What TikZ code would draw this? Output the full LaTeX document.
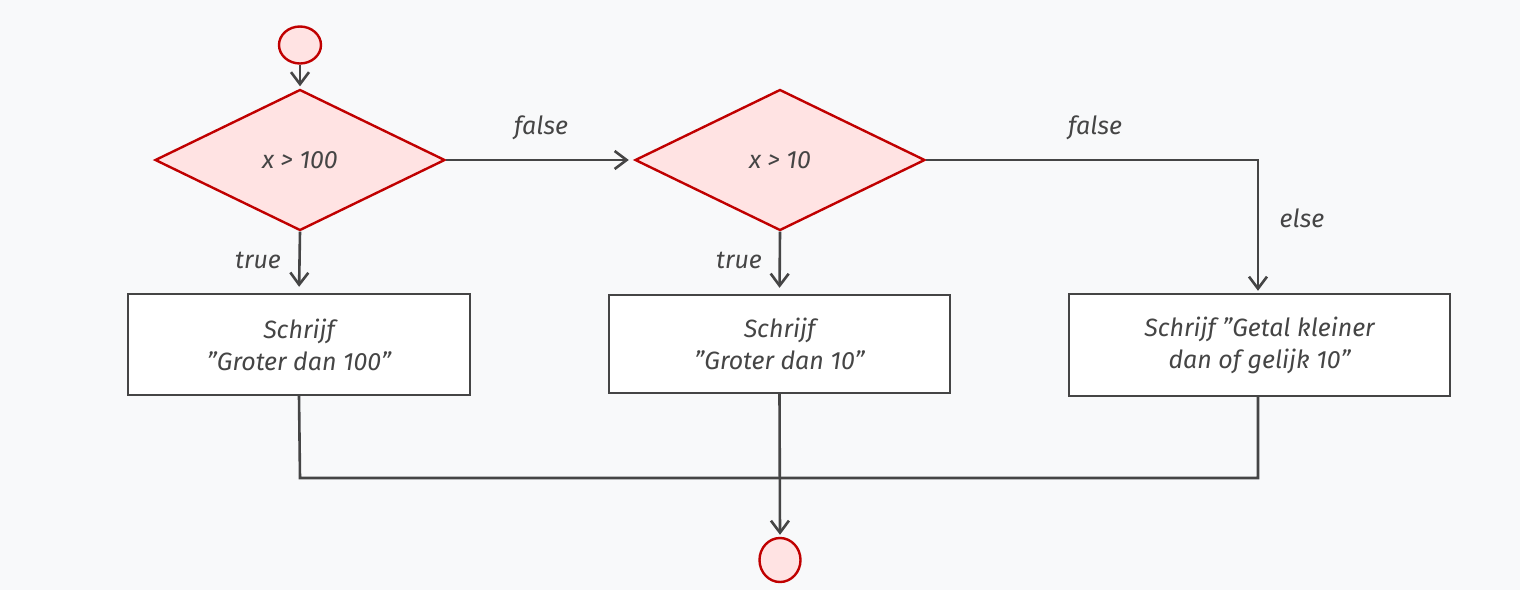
\documentclass[tikz,border=0pt]{standalone}
\usepackage{fontspec}
\setmainfont{Fira Sans}
\usetikzlibrary{shapes.geometric,arrows.meta}
\definecolor{bgc}{HTML}{F8F9FA}
\definecolor{redline}{HTML}{C00000}
\definecolor{redfill}{HTML}{FFE3E3}
\definecolor{ink}{HTML}{454545}
\tikzset{
  base/.style={font=\fontsize{12.5}{16}\selectfont\itshape, text=ink},
  decision/.style={base, diamond, draw=redline, fill=redfill, line width=1.2pt,
     minimum width=145pt, minimum height=70.5pt, inner sep=0pt},
  terminal/.style={ellipse, draw=redline, fill=redfill, line width=1.2pt, inner sep=0pt},
  action/.style={base, rectangle, draw=ink, fill=white, line width=1.2pt, align=center},
  flow/.style={draw=ink, line width=1.3pt, -{Straight Barb[length=6pt,width=9pt,line width=1.3pt]}},
  plain/.style={draw=ink, line width=1.3pt},
  lbl/.style={base}
}
\begin{document}
\begin{tikzpicture}[x=0.5pt,y=-0.5pt]
  \fill[bgc] (0,0) rectangle (1520,590);
  \useasboundingbox (0,0) rectangle (1520,590);

  \node[terminal, minimum width=21pt, minimum height=18.5pt] (start) at (300,45) {};
  \node[decision] (d1) at (300,160) {x > 100};
  \node[decision] (d2) at (780,160) {x > 10};
  \node[action, minimum width=171pt, minimum height=50.5pt] (b1) at (299,344.5) {Schrijf\\"Groter dan 100"};
  \node[action, minimum width=170.5pt, minimum height=49pt] (b2) at (779.5,344) {Schrijf\\"Groter dan 10"};
  \node[action, minimum width=190.5pt, minimum height=51pt] (b3) at (1259.5,345) {Schrijf "Getal kleiner\\dan of gelijk 10"};
  \node[terminal, minimum width=20.5pt, minimum height=22pt] (end) at (780,560) {};

  \coordinate (c1) at (1258,160);
  \coordinate (j1) at (300,478);
  \coordinate (j3) at (1258,478);

  \draw[flow, shorten >=1pt] (start) -- (d1);
  \draw[flow, shorten >=2.5pt] (d1.east) -- (d2.west);
  \draw[flow, shorten >=3pt] (d1.south) -- (b1.north);
  \draw[flow, shorten >=3pt] (d2.south) -- (b2.north);
  \draw[flow, shorten >=1pt] (d2.east) -- (c1) -- (b3.north -| c1);
  \draw[plain] (b1.south) -- (j1) -- (j3) -- (b3.south -| j3);
  \draw[flow, shorten >=1pt] (b2.south) -- (end.north);

  \node[lbl] (l1) at (541,128) {false};
  \node[lbl] (l2) at (1095,128) {false};
  \node[lbl] (l3) at (258,260) {true};
  \node[lbl] (l4) at (739,260) {true};
  \node[lbl] (l5) at (1302,218) {else};
\end{tikzpicture}
\end{document}
